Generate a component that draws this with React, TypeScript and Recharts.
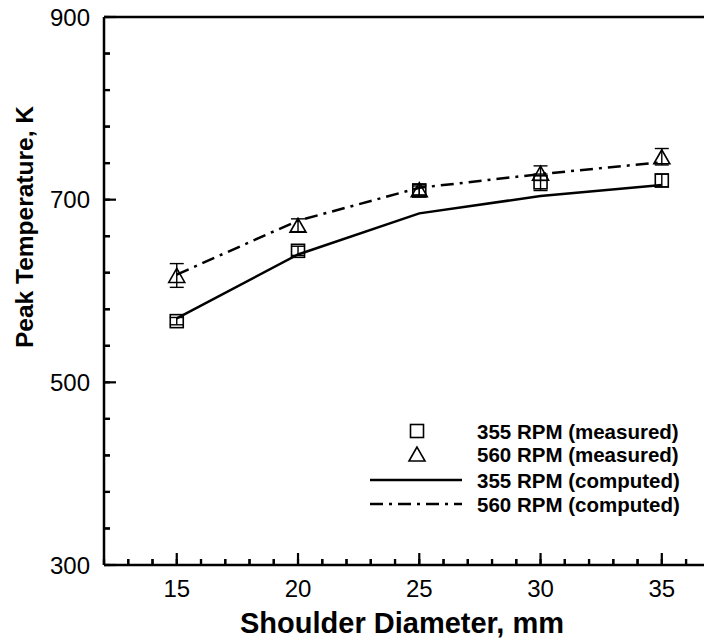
import React from "react";
import {
  ComposedChart,
  Line,
  Scatter,
  XAxis,
  YAxis,
  ErrorBar,
  ReferenceLine,
  Legend,
} from "recharts";

// ---- data ----
const diameters = [15, 20, 25, 30, 35];
const measured355 = [567, 644, 710, 719, 721];
const measured355Err = [4, 5, 5, 9, 7];
const measured560 = [617, 672, 711, 729, 747];
const measured560Err = [13, 7, 6, 8, 9];
const computed355 = [570, 640, 685, 704, 716];
const computed560 = [618, 677, 713, 728, 741];

const xTicks = [12, 13, 14, 15, 16, 17, 18, 19, 20, 21, 22, 23, 24, 25, 26, 27, 28, 29, 30, 31, 32, 33, 34, 35, 36];
const xLabelTicks = [15, 20, 25, 30, 35];
const yTicks = [300, 340, 380, 420, 460, 500, 540, 580, 620, 660, 700, 740, 780, 820, 860, 900];
const yLabelTicks = [300, 500, 700, 900];

const legendLabels = [
  "355 RPM (measured)",
  "560 RPM (measured)",
  "355 RPM (computed)",
  "560 RPM (computed)",
];

const xTitle = "Shoulder Diameter, mm";
const yTitle = "Peak Temperature, K";

const FONT = "'Liberation Sans', Arial, Helvetica, sans-serif";
const DASH_DOT = "13 6 3 6";
const MINOR = 6;
const MAJOR = 12;

const sq355 = diameters.map((x, i) => ({ x, y: measured355[i], err: measured355Err[i] }));
const tri560 = diameters.map((x, i) => ({ x, y: measured560[i], err: measured560Err[i] }));
const line355 = diameters.map((x, i) => ({ x, y: computed355[i] }));
const line560 = diameters.map((x, i) => ({ x, y: computed560[i] }));

const SquareShape = (props: any) => {
  const { cx, cy } = props;
  const s = 13;
  return (
    <rect x={cx - s / 2} y={cy - s / 2} width={s} height={s} fill="none" stroke="#000" strokeWidth={1.6} />
  );
};

const TriangleShape = (props: any) => {
  const { cx, cy } = props;
  const w = 16;
  const h = 14;
  return (
    <polygon
      points={`${cx},${cy - h / 2} ${cx - w / 2},${cy + h / 2} ${cx + w / 2},${cy + h / 2}`}
      fill="none"
      stroke="#000"
      strokeWidth={1.6}
    />
  );
};

// tickSize = -MINOR, tickMargin = 0  => y passed = axisY - MINOR
const XTick = (props: any) => {
  const { x, y, payload } = props;
  const v = payload.value;
  const axisY = y + MINOR;
  const major = xLabelTicks.includes(v);
  return (
    <g>
      <path d={`M${x},${axisY} L${x},${axisY - (major ? MAJOR : MINOR)}`} stroke="#000" strokeWidth={2.2} fill="none" />
      {major && (
        <text x={x} y={axisY + 32} textAnchor="middle" fontSize={24} fontFamily={FONT} fill="#000">
          {v}
        </text>
      )}
    </g>
  );
};

// tickSize = -MINOR, tickMargin = 0  => x passed = axisX + MINOR
const YTick = (props: any) => {
  const { x, y, payload } = props;
  const v = payload.value;
  const axisX = x - MINOR;
  const major = yLabelTicks.includes(v);
  return (
    <g>
      <path d={`M${axisX},${y} L${axisX + (major ? MAJOR : MINOR)},${y}`} stroke="#000" strokeWidth={2.2} fill="none" />
      {major && (
        <text x={axisX - 14} y={y + 8.5} textAnchor="end" fontSize={24} fontFamily={FONT} fill="#000">
          {v}
        </text>
      )}
    </g>
  );
};

const LegendContent = () => {
  const rows = [21, 44, 70, 94];
  return (
    <svg width={340} height={110} style={{ display: "block" }}>
      <rect x={57 - 6.5} y={rows[0] - 6.5} width={13} height={13} fill="none" stroke="#000" strokeWidth={1.6} />
      <polygon
        points={`57,${rows[1] - 7} 49,${rows[1] + 7} 65,${rows[1] + 7}`}
        fill="none"
        stroke="#000"
        strokeWidth={1.6}
      />
      <line x1={10} x2={102} y1={rows[2]} y2={rows[2]} stroke="#000" strokeWidth={2.5} />
      <line x1={10} x2={102} y1={rows[3]} y2={rows[3]} stroke="#000" strokeWidth={2.5} strokeDasharray={DASH_DOT} />
      {legendLabels.map((t, i) => (
        <text key={t} x={117} y={rows[i] + 7.5} fontSize={20.5} fontWeight="bold" fontFamily={FONT} fill="#000">
          {t}
        </text>
      ))}
    </svg>
  );
};

export default function App() {
  return (
    <div style={{ position: "absolute", left: 0, top: 0, width: 704, height: 642, background: "#fff" }}>
      <ComposedChart width={704} height={642} margin={{ top: 17, right: 0, bottom: 0, left: 0 }}>
        <XAxis
          dataKey="x"
          type="number"
          domain={[12, 36.74]}
          ticks={xTicks}
          interval={0}
          allowDataOverflow
          tickSize={-MINOR}
          tickMargin={0}
          tickLine={{ stroke: "#000", strokeWidth: 2.2 }}
          tick={<XTick />}
          height={77}
          axisLine={{ stroke: "#000", strokeWidth: 2.5 }}
          label={{
            content: () => (
              <text x={402} y={633} textAnchor="middle" fontSize={29} fontWeight="bold" fontFamily={FONT} fill="#000">
                {xTitle}
              </text>
            ),
          }}
        />
        <YAxis
          dataKey="y"
          type="number"
          domain={[300, 900]}
          ticks={yTicks}
          interval={0}
          allowDataOverflow
          tickSize={-MINOR}
          tickMargin={0}
          tickLine={{ stroke: "#000", strokeWidth: 2.2 }}
          tick={<YTick />}
          width={104}
          axisLine={{ stroke: "#000", strokeWidth: 2.5 }}
          label={{
            content: () => (
              <text
                x={0}
                y={0}
                transform="translate(33, 227) rotate(-90)"
                textAnchor="middle"
                fontSize={24.5}
                fontWeight="bold"
                fontFamily={FONT}
                fill="#000"
              >
                {yTitle}
              </text>
            ),
          }}
        />
        <ReferenceLine y={900} stroke="#000" strokeWidth={2.5} />
        <Line
          data={line355}
          dataKey="y"
          type="linear"
          stroke="#000"
          strokeWidth={2.5}
          dot={false}
          activeDot={false}
          isAnimationActive={false}
          name={legendLabels[2]}
        />
        <Line
          data={line560}
          dataKey="y"
          type="linear"
          stroke="#000"
          strokeWidth={2.5}
          strokeDasharray={DASH_DOT}
          dot={false}
          activeDot={false}
          isAnimationActive={false}
          name={legendLabels[3]}
        />
        <Scatter data={sq355} dataKey="y" shape={<SquareShape />} isAnimationActive={false} name={legendLabels[0]}>
          <ErrorBar dataKey="err" direction="y" width={7} stroke="#000" strokeWidth={1.4} />
        </Scatter>
        <Scatter data={tri560} dataKey="y" shape={<TriangleShape />} isAnimationActive={false} name={legendLabels[1]}>
          <ErrorBar dataKey="err" direction="y" width={7} stroke="#000" strokeWidth={1.4} />
        </Scatter>
        <Legend
          layout="horizontal"
          verticalAlign="middle"
          align="center"
          content={<LegendContent />}
          wrapperStyle={{ position: "absolute", left: 360, top: 410, width: 340, height: 110 }}
        />
      </ComposedChart>
    </div>
  );
}
